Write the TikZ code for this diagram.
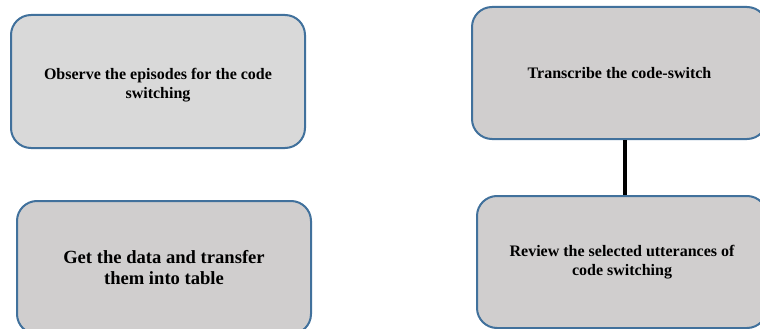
\documentclass[tikz,border=0pt]{standalone}
\usepackage{fontspec}
\setmainfont{Liberation Serif}
\definecolor{stepline}{HTML}{41719C}
\definecolor{steplight}{HTML}{D9D9D9}
\definecolor{stepgrey}{HTML}{D0CECE}
\tikzset{
  stepbox/.style={draw=stepline, line width=2pt, rounded corners=20pt,
    fill=stepgrey, align=center, inner sep=0pt,
    font=\bfseries\fontsize{16}{19}\selectfont},
  steptext/.style={align=center, inner sep=0pt,
    font=\bfseries\fontsize{16}{19}\selectfont},
  link/.style={line width=4pt, draw=black}
}
\begin{document}
\begin{tikzpicture}[x=1pt, y=-1pt]
  \useasboundingbox (0,0) rectangle (760,329);
  \clip (0,0) rectangle (760,329);
  % first step: box and its caption set a little below centre
  \node[stepbox, fill=steplight, minimum width=294pt, minimum height=133pt]
    (observe) at (158,81.5) {};
  \node[steptext] (observetext) at (158,85)
    {Observe the episodes for the code\\switching};
  \node[stepbox, minimum width=294pt, minimum height=133pt,
    font=\bfseries\fontsize{18.6}{21.5}\selectfont]
    (getdata) at (164,267.5) {Get the data and transfer\\them into table};
  \node[stepbox, minimum width=295pt, minimum height=132pt]
    (transcribe) at (619.5,73) {Transcribe the code-switch};
  \node[stepbox, minimum width=290pt, minimum height=132pt]
    (review) at (622,262) {Review the selected utterances of\\code switching};
  \draw[link] (transcribe.south -| 625,0) -- (review.north -| 625,0);
\end{tikzpicture}
\end{document}
